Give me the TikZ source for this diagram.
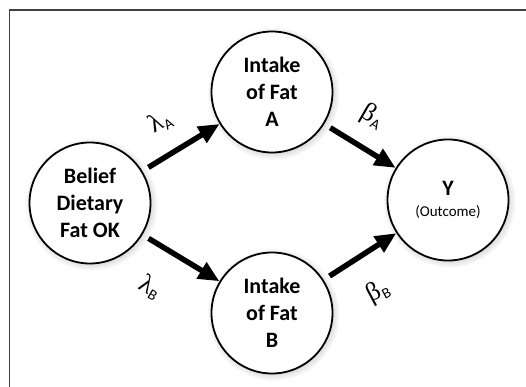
\documentclass[tikz,border=0pt]{standalone}
\usepackage{fontspec}
\setmainfont{Carlito}
\newfontfamily\greekfont{Liberation Serif}
\usetikzlibrary{arrows.meta,shadows}
\begin{document}
\begin{tikzpicture}[x=1pt,y=-1pt]

% Style for nodes
\tikzstyle{ball}=[circle,draw,line width=1.8pt,fill=white,minimum size=121pt,inner sep=0pt,
    align=center,font=\fontsize{22}{27}\selectfont\bfseries,
    circular drop shadow={shadow xshift=1.2pt,shadow yshift=-1.2pt,opacity=0.35}]
% Style for arrows and their labels
\tikzstyle{path}=[line width=5.5pt,-{Triangle[length=21pt,width=18pt]},shorten <=7pt]
\tikzstyle{coef}=[font=\fontsize{26}{26}\greekfont,inner sep=1pt]
\newcommand{\sub}[1]{\kern0.5pt\raisebox{-0.3ex}{\fontsize{15}{15}\selectfont\rmfamily #1}}
% Frame
\useasboundingbox (0,0) rectangle (526,387);
\clip (0,0) rectangle (526,387);
\draw[line width=1.3pt,black!75] (9.5,10) rectangle (540,400);
% The Nodes
\node(belief)[ball] at (90,203) {Belief\\Dietary\\Fat OK};
\node(fatA)[ball] at (272,92) {Intake\\of Fat\\A};
\node(fatB)[ball] at (272,313) {Intake\\of Fat\\B};
\node(outcome)[ball] at (448,200) {Y\\[-6pt]{\fontsize{15}{17}\selectfont\mdseries(Outcome)}};
% The Paths
\draw[path] (belief) -- (fatA);
\draw[path] (fatA) -- (outcome);
\draw[path] (belief) -- (fatB);
\draw[path] (fatB) -- (outcome);
\node(lamA)[coef,rotate=30] at (160,122) {λ\sub{A}};
\node(betA)[coef,rotate=-30] at (372,117) {β\sub{A}};
\node(lamB)[coef,rotate=-30] at (150,287) {λ\sub{B}};
\node(betB)[coef,rotate=28] at (378,292) {β\sub{B}};
\end{tikzpicture}
\end{document}
